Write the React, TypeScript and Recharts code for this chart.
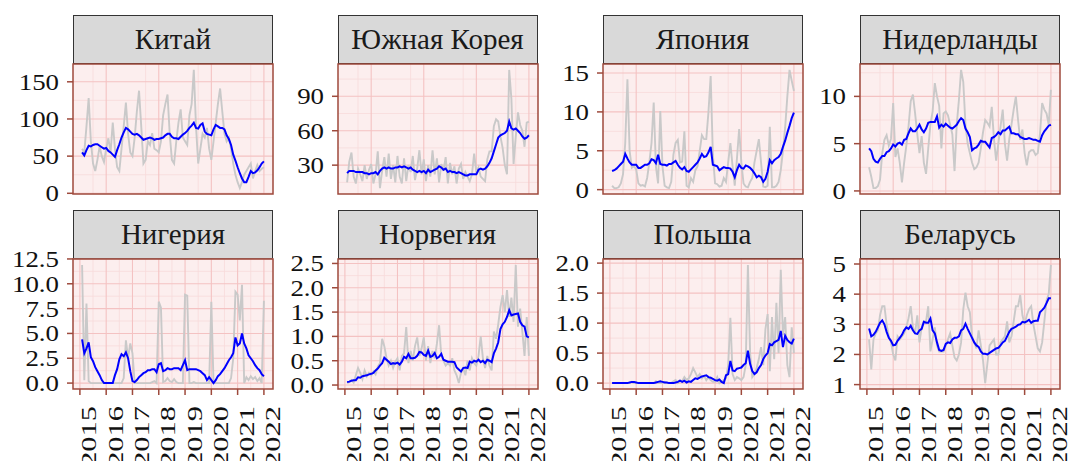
import React from 'react';
import { LineChart, Line, XAxis, YAxis, CartesianGrid, ReferenceArea } from 'recharts';

// ---------- categories ----------
const YEAR_TICKS = [2015, 2016, 2017, 2018, 2019, 2020, 2021, 2022];
const START_YEAR = 2015;
const START_MONTH = 2;
const N_MONTHS = 84;
const MONTHS: string[] = Array.from({ length: N_MONTHS }, (_, i) => {
  const m0 = START_MONTH - 1 + i;
  const y = START_YEAR + Math.floor(m0 / 12);
  const m = (m0 % 12) + 1;
  return `${y}-${String(m).padStart(2, '0')}`;
});

// ---------- series values (Feb 2015 .. Jan 2022) ----------
const chinaRaw = [
  60, 55, 90, 128, 70, 40, 30, 45, 63, 50, 42,
  60, 74, 55, 95, 60, 35, 30, 60, 90, 122, 80, 55,
  50, 75, 110, 138, 90, 40, 45, 70, 65, 81, 60, 58,
  55, 70, 105, 120, 133, 80, 45, 40, 70, 95, 113, 75,
  70, 65, 105, 120, 166, 90, 40, 60, 80, 75, 88, 60,
  45, 70, 95, 120, 141, 110, 80, 70, 75, 60, 40, 25,
  15, 7, 15, 25, 30, 35, 40, 20, 30, 38, 30, 33,
  35,
];
const chinaSmooth = [
  55, 51, 58, 64, 63, 65, 66, 66, 64, 62, 60,
  61, 57, 55, 52, 49, 58, 66, 75, 82, 88, 86, 83,
  80, 79, 80, 78, 75, 72, 73, 74, 75, 74, 72, 73,
  73, 74, 75, 78, 80, 80, 76, 74, 74, 73, 76, 79,
  81, 84, 88, 91, 95, 88, 87, 92, 94, 83, 80, 79,
  78, 86, 92, 90, 88, 88, 86, 78, 73, 65, 52, 44,
  35, 27, 20, 15, 15, 22, 30, 27, 28, 31, 35, 40,
  43,
];
const koreaRaw = [
  15, 33, 41, 20, 14, 27, 22, 16, 30, 18, 26,
  31, 14, 22, 42, 10, 25, 37, 20, 40, 18, 30, 15,
  38, 20, 14, 36, 16, 30, 24, 38, 17, 27, 43, 22,
  35, 16, 30, 20, 43, 22, 36, 15, 31, 25, 37, 14,
  32, 22, 29, 14, 27, 31, 18, 24, 20, 16, 22, 40,
  24, 28, 20, 18, 16, 35, 42, 42, 64, 70, 68, 55,
  45, 30, 22, 113, 88, 31, 55, 76, 65, 60, 46, 67,
  68,
];
const koreaSmooth = [
  23, 25, 25, 25, 24, 24, 24, 24, 23, 23, 22,
  23, 23, 24, 22, 25, 27, 28, 27, 28, 27, 27, 28,
  28, 29, 28, 29, 28, 27, 28, 26, 25, 24, 25, 24,
  25, 23, 26, 24, 25, 26, 27, 29, 28, 26, 27, 24,
  25, 24, 24, 23, 24, 23, 22, 21, 21, 22, 22, 22,
  22, 26, 27, 26, 27, 29, 32, 36, 42, 48, 54, 56,
  57, 58, 60, 68, 62, 61, 62, 60, 58, 55, 53, 54,
  56,
];
const japanRaw = [
  0.5, 0.2, 0.2, 0.3, 0.8, 2.0, 6.0, 14.2, 5.0, 2.8, 3.0,
  2.6, 0.8, 0.5, 0.6, 0.4, 1.5, 3.5, 6.0, 11.2, 3.0, 0.8, 10.1,
  3.0, 0.5, 0.3, 0.2, 1.0, 4.5, 6.0, 6.4, 3.5, 3.6, 7.5, 0.5,
  0.3, 1.5, 1.0, 2.5, 3.0, 5.0, 7.0, 6.5, 6.5, 10.0, 14.6, 4.5,
  0.8, 0.7, 0.4, 0.5, 1.5, 1.0, 3.5, 6.0, 3.0, 0.5, 4.0, 7.8,
  3.5, 0.8, 0.4, 0.3, 1.0, 1.5, 3.5, 5.0, 6.5, 3.5, 0.4, 0.3,
  0.5, 8.1, 0.3, 0.3, 0.5, 1.0, 2.5, 5.0, 8.0, 12.0, 15.4, 14.0,
  12.7,
];
const japanSmooth = [
  2.4, 2.5, 2.7, 3.0, 3.3, 3.6, 4.6, 4.0, 3.5, 3.2, 3.2,
  3.2, 2.8, 2.8, 3.0, 3.2, 3.2, 3.4, 3.9, 3.8, 3.4, 4.5, 3.3,
  3.2, 3.2, 3.1, 3.3, 3.3, 3.5, 3.7, 3.2, 2.8, 2.6, 2.9, 2.4,
  2.3, 2.6, 2.9, 3.2, 3.5, 4.0, 4.6, 4.2, 4.3, 4.8, 5.5, 3.2,
  3.1, 3.0, 2.5, 2.7, 2.9, 2.8, 2.8, 2.7, 2.3, 1.6, 2.5, 3.2,
  2.8, 2.7, 3.1, 3.0, 2.8, 2.5, 2.1, 1.6, 1.8, 1.6, 1.0, 1.4,
  2.3, 3.8, 3.4, 3.8, 4.0, 4.2, 4.6, 5.5, 6.3, 7.3, 8.2, 9.2,
  9.9,
];
const nethRaw = [
  2.5, 1.5, 0.3, 0.3, 0.5, 1.2, 4.0, 5.4, 5.9, 4.8, 5.5,
  9.3, 3.6, 4.5, 3.0, 0.9, 3.0, 4.8, 6.8, 9.5, 10.2, 8.2, 6.0,
  4.0, 5.8, 3.0, 1.8, 4.5, 7.0, 8.4, 11.4, 10.0, 9.0, 4.5, 8.2,
  8.4, 8.0, 7.0, 6.0, 2.1, 7.0, 9.6, 12.8, 11.5, 7.0, 5.0, 4.0,
  3.0, 2.3, 2.5, 3.0, 4.5, 6.2, 7.5, 7.2, 6.8, 8.9, 5.5, 3.2,
  5.0, 6.8, 8.6, 5.0, 3.2, 5.5, 7.0, 8.6, 10.0, 7.5, 5.4, 6.5,
  4.0, 2.7, 4.1, 4.3, 4.3, 3.8, 4.0, 6.0, 9.3, 8.6, 8.2, 7.0,
  10.7,
];
const nethSmooth = [
  4.5, 4.2, 3.4, 3.1, 3.0, 3.4, 3.7, 3.7, 4.1, 4.2, 4.5,
  4.9, 4.7, 5.0, 5.1, 4.9, 5.4, 5.5, 6.1, 6.6, 6.3, 6.3, 6.6,
  7.0, 6.5, 6.2, 6.6, 7.2, 7.3, 7.3, 7.3, 7.9, 6.7, 7.0, 6.8,
  7.1, 6.9, 6.7, 6.6, 6.8, 7.0, 7.4, 7.7, 7.5, 6.6, 6.2, 5.7,
  4.3, 4.5, 4.6, 4.9, 5.3, 5.2, 5.2, 4.9, 4.6, 5.6, 5.7, 5.9,
  6.2, 6.0, 6.4, 6.4, 6.6, 6.8, 6.1, 6.1, 6.0, 6.0, 5.7, 5.6,
  5.5, 5.5, 5.6, 5.5, 5.4, 5.4, 5.3, 5.2, 5.9, 6.3, 6.6, 6.9,
  7.0,
];
const nigeriaRaw = [
  11.9, 0.3, 8.0, 0.2, 0, 0, 0, 0, 0, 0, 0,
  0, 0, 0, 0, 0, 0, 0, 0, 0.5, 4.3, 2.5, 4.0,
  3.0, 0, 0, 0, 0, 0, 0, 0, 0, 0.1, 0.2, 0,
  8.2, 7.6, 0.1, 0.2, 0.5, 0.2, 0.1, 0.4, 0.1, 0, 0, 0,
  8.9, 8.8, 0, 0, 0.1, 0, 0, 0, 0, 0, 0, 0,
  8.2, 0, 0, 0, 0, 0, 0, 0, 0, 0.5, 2.5, 9.2,
  8.9, 6.3, 9.9, 0, 0.6, 0.3, 0.7, 0.4, 0.6, 0.2, 0.5, 0,
  8.3,
];
const nigeriaSmooth = [
  4.4, 3.0, 3.5, 4.1, 2.6, 2.2, 1.6, 1.2, 0.8, 0.3, 0.0,
  0.0, 0.0, 0.0, 0.0, 0.8, 1.4, 2.4, 2.9, 2.7, 3.1, 2.5, 1.2,
  0.2, 0.1, 0.3, 0.6, 0.8, 1.0, 1.1, 1.3, 1.3, 1.4, 1.4, 1.1,
  1.9, 2.0, 1.2, 1.3, 1.5, 1.4, 1.4, 1.5, 1.5, 1.5, 1.3, 1.8,
  2.3, 1.3, 1.4, 1.4, 1.4, 1.4, 1.3, 1.2, 1.0, 0.8, 0.3, 0.6,
  0.3, 0.0, 0.3, 0.7, 0.9, 1.2, 1.5, 1.9, 2.3, 2.6, 3.0, 4.6,
  3.8, 4.0, 5.0, 4.0, 3.5, 2.8, 2.5, 2.2, 1.8, 1.5, 1.3, 0.9,
  0.7,
];
const norwayRaw = [
  0.04, 0.06, 0.10, 0.05, 0.20, 0.35, 0.25, 0.12, 0.30, 0.18, 0.25,
  0.20, 0.28, 0.22, 0.38, 0.45, 0.95, 0.80, 0.55, 0.40, 0.50, 0.35, 0.48,
  0.55, 0.30, 0.60, 0.65, 1.19, 0.45, 0.70, 0.50, 0.80, 0.98, 0.60, 0.75,
  0.98, 0.50, 0.80, 0.45, 0.70, 0.55, 0.85, 1.23, 0.60, 0.50, 0.40, 0.45,
  0.40, 0.55, 0.30, 0.20, 0.04, 0.25, 0.35, 0.20, 0.50, 0.30, 0.55, 0.45,
  0.40, 0.60, 1.00, 0.55, 0.35, 0.60, 0.40, 0.30, 1.10, 0.95, 1.25, 1.60,
  1.85, 1.50, 1.95, 1.40, 1.80, 1.30, 2.47, 1.20, 1.57, 1.10, 0.60, 1.40,
  0.60,
];
const norwaySmooth = [
  0.06, 0.07, 0.09, 0.10, 0.10, 0.16, 0.15, 0.18, 0.19, 0.20, 0.22,
  0.23, 0.25, 0.30, 0.34, 0.40, 0.45, 0.56, 0.52, 0.48, 0.43, 0.45, 0.44,
  0.46, 0.42, 0.48, 0.58, 0.55, 0.64, 0.55, 0.55, 0.56, 0.60, 0.68, 0.67,
  0.62, 0.60, 0.71, 0.58, 0.60, 0.66, 0.55, 0.58, 0.64, 0.52, 0.50, 0.48,
  0.48, 0.48, 0.47, 0.36, 0.32, 0.28, 0.35, 0.36, 0.35, 0.48, 0.46, 0.50,
  0.48, 0.52, 0.47, 0.50, 0.45, 0.52, 0.50, 0.47, 0.65, 0.75, 0.88, 1.15,
  1.25, 1.30, 1.40, 1.54, 1.43, 1.45, 1.46, 1.47, 1.30, 1.23, 1.20, 1.00,
  0.98,
];
const polandRaw = [
  0, 0, 0, 0, 0, 0, 0, 0, 0, 0.02, 0,
  0, 0, 0, 0, 0, 0, 0, 0, 0, 0.03, 0, 0,
  0, 0.02, 0, 0, 0, 0.03, 0.05, 0, 0.04, 0.03, 0.10, 0.05,
  0.08, 0.15, 0.25, 0.18, 0.10, 0.15, 0.08, 0.12, 0.05, 0.10, 0.05, 0.02,
  0.02, 0.10, 0.00, 0.03, 0.05, 0.08, 0.30, 1.09, 0.15, 0.05, 0.10, 0.08,
  0.05, 0.10, 0.30, 1.97, 0.50, 0.10, 0.15, 0.25, 0.40, 0.60, 0.30, 0.90,
  1.15, 0.20, 1.10, 0.40, 1.34, 0.50, 1.89, 0.80, 1.10, 0.30, 0.10, 0.93,
  0.50,
];
const polandSmooth = [
  0.00, 0.00, 0.00, 0.00, 0.00, 0.00, 0.00, 0.00, 0.01, 0.02, 0.02,
  0.01, 0.00, 0.00, 0.00, 0.00, 0.00, 0.00, 0.00, 0.00, 0.01, 0.02, 0.03,
  0.02, 0.01, 0.01, 0.00, 0.00, 0.00, 0.01, 0.02, 0.04, 0.02, 0.04, 0.01,
  0.03, 0.02, 0.05, 0.08, 0.07, 0.09, 0.11, 0.12, 0.13, 0.10, 0.09, 0.07,
  0.05, 0.04, 0.06, 0.02, 0.00, 0.13, 0.15, 0.37, 0.21, 0.20, 0.24, 0.25,
  0.26, 0.30, 0.33, 0.54, 0.32, 0.20, 0.15, 0.18, 0.25, 0.30, 0.40, 0.46,
  0.50, 0.65, 0.63, 0.68, 0.70, 0.72, 0.87, 0.60, 0.79, 0.72, 0.68, 0.66,
  0.74,
];
const belarusRaw = [
  2.5, 1.5, 2.5, 2.7, 2.8, 3.3, 3.6, 3.6, 3.0, 2.6, 2.4,
  2.0, 1.8, 2.6, 2.5, 2.6, 2.7, 2.9, 3.2, 3.6, 2.9, 2.7, 3.3,
  2.4, 2.9, 3.1, 3.1, 3.6, 2.1, 2.5, 2.9, 2.3, 2.1, 2.1, 2.1,
  2.3, 2.5, 2.7, 2.3, 1.9, 1.8, 2.0, 2.4, 3.5, 4.05, 3.6, 3.4,
  2.6, 2.4, 2.2, 2.8, 2.3, 1.8, 1.05, 1.7, 2.3, 2.4, 2.5, 2.0,
  2.0, 2.4, 2.5, 2.6, 3.1, 2.4, 2.6, 3.1, 3.6, 3.6, 3.97, 3.3,
  3.0, 3.3, 3.5, 3.6, 3.0, 2.6, 2.2, 2.1, 2.4, 3.1, 3.8, 4.0,
  4.97,
];
const belarusSmooth = [
  2.86, 2.60, 2.65, 2.75, 2.90, 3.05, 3.13, 3.00, 2.75, 2.55, 2.45,
  2.30, 2.32, 2.45, 2.55, 2.65, 2.80, 2.90, 2.85, 2.95, 2.80, 2.70, 2.68,
  2.80, 2.85, 3.08, 3.05, 3.05, 3.19, 2.80, 2.70, 2.40, 2.15, 2.12, 2.15,
  2.35, 2.40, 2.38, 2.50, 2.55, 2.55, 2.60, 2.80, 2.85, 3.02, 2.85, 2.70,
  2.55, 2.40, 2.30, 2.25, 2.10, 2.02, 2.02, 2.00, 2.05, 2.10, 2.15, 2.20,
  2.22, 2.30, 2.40, 2.45, 2.60, 2.75, 2.85, 2.88, 2.92, 2.98, 3.00, 3.08,
  3.06, 3.10, 3.15, 3.05, 3.10, 3.12, 3.12, 3.40, 3.47, 3.55, 3.70, 3.86,
  3.86,
];

// ---------- tick labels ----------
const chinaTicks = [0, 50, 100, 150];
const koreaTicks = [30, 60, 90];
const japanTicks = [0, 5, 10, 15];
const nethTicks = [0, 5, 10];
const nigeriaTicks = [0, 2.5, 5, 7.5, 10, 12.5];
const norwayTicks = [0, 0.5, 1, 1.5, 2, 2.5];
const polandTicks = [0, 0.5, 1, 1.5, 2];
const belarusTicks = [1, 2, 3, 4, 5];

const FACETS = [
  { name: 'Китай', raw: chinaRaw, smooth: chinaSmooth, ticks: chinaTicks, dec: 0 },
  { name: 'Южная Корея', raw: koreaRaw, smooth: koreaSmooth, ticks: koreaTicks, dec: 0 },
  { name: 'Япония', raw: japanRaw, smooth: japanSmooth, ticks: japanTicks, dec: 0 },
  { name: 'Нидерланды', raw: nethRaw, smooth: nethSmooth, ticks: nethTicks, dec: 0 },
  { name: 'Нигерия', raw: nigeriaRaw, smooth: nigeriaSmooth, ticks: nigeriaTicks, dec: 1 },
  { name: 'Норвегия', raw: norwayRaw, smooth: norwaySmooth, ticks: norwayTicks, dec: 1 },
  { name: 'Польша', raw: polandRaw, smooth: polandSmooth, ticks: polandTicks, dec: 1 },
  { name: 'Беларусь', raw: belarusRaw, smooth: belarusSmooth, ticks: belarusTicks, dec: 0 },
];

// ---------- layout & style ----------
const FONT = "'Liberation Serif', 'Times New Roman', serif";
const COL_X = [73, 337.5, 602.5, 860];
const STRIP_TOP = [15, 210];
const STRIP_H = 49;
const PW = 200;
const PH = 130;
const AXW = 72;
const MT = 16;
const MB = 16;
const MR = 16;
const XH = 72;
const BORDER = '#9E4A3C';
const BG = '#FCEEEE';
const MAJOR = '#F4C2C2';
const MINOR = '#F8DADA';
const TEXT = '#111111';

const monthToT = (s: string) => {
  const [y, m] = s.split('-').map(Number);
  return y + (m - 1) / 12;
};

const YTick = (props: any) => {
  const { x, y, payload, dec } = props;
  return (
    <g transform={`translate(${x},${y}) scale(1.12,1)`}>
      <text x={0} y={0} textAnchor="end" dominantBaseline="central" fontSize={24} fontFamily={FONT} fill={TEXT}>
        {Number(payload.value).toFixed(dec)}
      </text>
    </g>
  );
};

const XTick = (props: any) => {
  const { x, y, payload } = props;
  return (
    <g transform={`translate(${x},${y}) rotate(-90) scale(1.45,1)`}>
      <text x={0} y={16.5} textAnchor="end" fontSize={21} fontFamily={FONT} fill={TEXT}>
        {payload.value}
      </text>
    </g>
  );
};

function Facet({ f, idx }: { f: (typeof FACETS)[number]; idx: number }) {
  const col = idx % 4;
  const row = Math.floor(idx / 4);
  const panelX = COL_X[col];
  const stripTop = STRIP_TOP[row];
  const panelTop = stripTop + STRIP_H;
  const showX = row === 1;

  const data = MONTHS.map((m, i) => ({ t: monthToT(m), raw: f.raw[i], smooth: f.smooth[i] }));
  const ts = data.map((d) => d.t);
  const tMin = Math.min(...ts);
  const tMax = Math.max(...ts);
  const tR = tMax - tMin;
  const xDomain: [number, number] = [tMin - 0.05 * tR, tMax + 0.05 * tR];
  const vals = [...f.raw, ...f.smooth];
  const vMin = Math.min(...vals);
  const vMax = Math.max(...vals);
  const vR = vMax - vMin;
  const yDomain: [number, number] = [vMin - 0.05 * vR, vMax + 0.05 * vR];

  const step = f.ticks[1] - f.ticks[0];
  const yMinor = [f.ticks[0] - step / 2, ...f.ticks.map((t) => t + step / 2)].filter(
    (v) => v > yDomain[0] && v < yDomain[1]
  );
  const xMinor = YEAR_TICKS.map((y) => y + 0.5).concat([YEAR_TICKS[0] - 0.5]).filter(
    (v) => v > xDomain[0] && v < xDomain[1]
  );

  return (
    <>
      <div
        style={{
          position: 'absolute',
          left: panelX,
          top: stripTop,
          width: PW,
          height: STRIP_H,
          background: '#D9D9D9',
          border: '1.2px solid #333333',
          boxSizing: 'border-box',
          display: 'flex',
          alignItems: 'center',
          justifyContent: 'center',
          fontSize: 29,
          fontFamily: FONT,
          color: '#1A1A1A',
          lineHeight: 1,
          whiteSpace: 'nowrap',
        }}
      >
        {f.name}
      </div>
      <div style={{ position: 'absolute', left: panelX - AXW, top: panelTop - MT }}>
        <LineChart
          width={AXW + PW + MR}
          height={MT + PH + (showX ? XH : MB)}
          data={data}
          margin={{ top: MT, right: MR, bottom: showX ? 0 : MB, left: 0 }}
        >
          <CartesianGrid
            fill={BG}
            fillOpacity={1}
            stroke={MINOR}
            strokeWidth={0.8}
            horizontalValues={yMinor}
            verticalValues={xMinor}
          />
          <CartesianGrid
            stroke={MAJOR}
            strokeWidth={1.1}
            horizontalValues={f.ticks}
            verticalValues={YEAR_TICKS}
          />
          {showX ? (
            <XAxis
              type="number"
              dataKey="t"
              domain={xDomain}
              allowDataOverflow
              ticks={YEAR_TICKS}
              interval={0}
              height={XH}
              tickSize={6}
              tickMargin={11}
              axisLine={false}
              tickLine={{ stroke: BORDER, strokeWidth: 1.5 }}
              tick={(p: any) => <XTick {...p} />}
            />
          ) : (
            <XAxis type="number" dataKey="t" domain={xDomain} allowDataOverflow hide />
          )}
          <YAxis
            type="number"
            domain={yDomain}
            allowDataOverflow
            ticks={f.ticks}
            interval={0}
            width={AXW}
            tickSize={6}
            tickMargin={8}
            axisLine={false}
            tickLine={{ stroke: BORDER, strokeWidth: 1.5 }}
            tick={(p: any) => <YTick {...p} dec={f.dec} />}
          />
          <Line
            type="linear"
            dataKey="raw"
            stroke="#C9C9C9"
            strokeWidth={1.9}
            dot={false}
            activeDot={false}
            isAnimationActive={false}
          />
          <Line
            type="linear"
            dataKey="smooth"
            stroke="#0000FF"
            strokeWidth={2}
            dot={false}
            activeDot={false}
            isAnimationActive={false}
          />
          <ReferenceArea
            x1={xDomain[0]}
            x2={xDomain[1]}
            y1={yDomain[0]}
            y2={yDomain[1]}
            fill="none"
            fillOpacity={0}
            stroke={BORDER}
            strokeWidth={1.5}
            ifOverflow="visible"
          />
        </LineChart>
      </div>
    </>
  );
}

export default function App() {
  return (
    <div
      style={{
        position: 'absolute',
        left: 0,
        top: 0,
        width: 1073,
        height: 461,
        background: '#FFFFFF',
        overflow: 'hidden',
        fontFamily: FONT,
      }}
    >
      {FACETS.map((f, i) => (
        <Facet key={f.name} f={f} idx={i} />
      ))}
    </div>
  );
}
